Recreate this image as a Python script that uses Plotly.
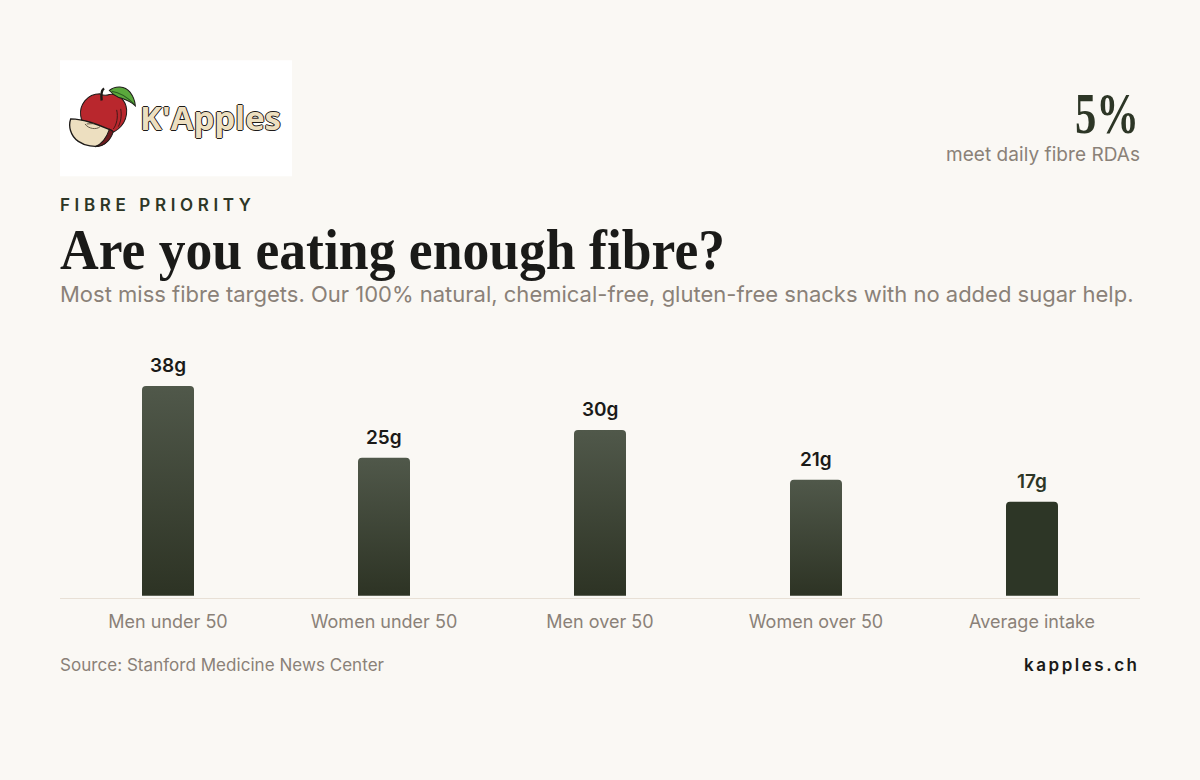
import base64
import json
import plotly.graph_objects as go

categories = ["Men under 50", "Women under 50", "Men over 50", "Women over 50", "Average intake"]
values = [38, 25, 30, 21, 17]
value_labels = ["38g", "25g", "30g", "21g", "17g"]

BG = "#faf8f4"
DARK = "#2d3626"
INK = "#1a1a18"
MUTED = "#8a8178"
W, H = 1200, 780
LEFT, RIGHT, TOP, BOTTOM = 60, 1140, 340, 598.3
PX_PER_G = 5.526
Y_MIN = -(BOTTOM - 596) / PX_PER_G
Y_MAX = Y_MIN + (BOTTOM - TOP) / PX_PER_G


def px(x):
    return (x - LEFT) / (RIGHT - LEFT)


def py(y):
    return (BOTTOM - y) / (BOTTOM - TOP)


logo_svg = """<svg xmlns='http://www.w3.org/2000/svg' viewBox='30 30 696 346'>
<path d='M150 130 C110 130 88 165 92 195 C95 225 130 255 170 250 C205 245 232 215 230 178 C228 145 200 128 178 132 C168 136 160 136 150 130Z' fill='#b9272d' stroke='#1d1a18' stroke-width='3'/>
<path d='M200 178 C205 200 200 222 190 235 M212 175 C216 195 212 215 205 228' fill='none' stroke='#2a1613' stroke-width='2.5'/>
<path d='M155 150 C153 135 152 122 162 114' fill='none' stroke='#1d1a18' stroke-width='7'/>
<path d='M178 120 C195 105 225 105 240 125 C250 138 255 152 256 166 C240 150 222 146 205 140 C195 136 185 128 178 120Z' fill='#5aa83c' stroke='#1d1a18' stroke-width='3'/>
<path d='M185 122 C205 125 232 140 252 160' fill='none' stroke='#2b5a22' stroke-width='3'/>
<path d='M62 205 C55 225 60 255 85 272 C105 286 135 290 155 284 C170 278 182 258 186 240 C150 225 105 205 62 205Z' fill='#eddfc0' stroke='#1d1a18' stroke-width='4'/>
<path d='M178 236 L190 243 C182 268 165 286 135 288 C155 280 170 260 178 236Z' fill='#6d1a1e' stroke='#1d1a18' stroke-width='3'/>
<path d='M105 220 C115 235 140 238 150 228 M110 220 L132 219' fill='none' stroke='#4a4030' stroke-width='2.5'/>
</svg>"""
logo_uri = "data:image/svg+xml;base64," + base64.b64encode(logo_svg.encode()).decode()


def note(text, x, y, size, color, family="Inter", weight=400, anchor="left", cls_shadow=None):
    font = dict(family=family, size=size, color=color, weight=weight)
    if cls_shadow:
        font["shadow"] = cls_shadow
    return dict(text=text, x=px(x), y=py(y), xref="paper", yref="paper",
                xanchor=anchor, yanchor="middle", showarrow=False, font=font,
                borderpad=0, borderwidth=0)


annotations = [
    note("FIBRE PRIORITY", 60, 204.5, 17, "#2d3626", weight=600),
    note("Are you eating enough fibre?", 60, 250, 56, INK, family="Liberation Serif", weight=700),
    note("Most miss fibre targets. Our 100% natural, chemical-free, gluten-free snacks with no added sugar help.",
         60, 294, 22, MUTED),
    note("5%", 1140, 113, 58, DARK, family="Liberation Serif", weight=700, anchor="right"),
    note("meet daily fibre RDAs", 1140, 154, 19, MUTED, anchor="right"),
    note("Source: Stanford Medicine News Center", 60, 665, 17, MUTED),
    note("kapples.ch", 1140, 665, 17, INK, weight=600, anchor="right"),
    note("K'Apples", 140, 117, 33, "#eddfc0", family="Open Sans", weight=700,
         cls_shadow="1px 0 #1d1a18, -1px 0 #1d1a18, 0 1px #1d1a18, 0 -1px #1d1a18"),
]
for cat, val, lab in zip(categories, values, value_labels):
    annotations.append(dict(text=lab, x=cat, y=val, xref="x", yref="y", xanchor="center",
                            yanchor="bottom", yshift=7, showarrow=False,
                            font=dict(family="Inter", size=19, weight=600,
                                      color=DARK if cat == "Average intake" else INK)))

fig = go.Figure(go.Bar(
    x=categories, y=values,
    marker=dict(color=["#3e4536"] * 4 + [DARK], line=dict(width=0)),
    hoverinfo="skip",
))

fig.update_layout(
    width=W, height=H,
    margin=dict(l=LEFT, r=W - RIGHT, t=TOP, b=H - BOTTOM, pad=0),
    paper_bgcolor=BG, plot_bgcolor=BG,
    bargap=1 - 52 / 216, barcornerradius=4,
    showlegend=False,
    xaxis=dict(showline=True, linecolor="#e8e0d6", linewidth=1, ticks="",
               ticklabelstandoff=7, tickfont=dict(family="Inter", size=18, color=MUTED),
               showgrid=False, zeroline=False, fixedrange=True),
    yaxis=dict(range=[Y_MIN, Y_MAX], visible=False, showgrid=False, zeroline=False, fixedrange=True),
    annotations=annotations,
    shapes=[dict(type="rect", xref="paper", yref="paper", x0=px(60), x1=px(292),
                 y0=py(176), y1=py(60), fillcolor="#ffffff", line=dict(width=0), layer="below")],
    images=[dict(source=logo_uri, xref="paper", yref="paper", x=px(60), y=py(60),
                 sizex=px(292) - px(60), sizey=py(60) - py(176), xanchor="left", yanchor="top",
                 sizing="stretch", layer="above")],
)

# horizontal extents measured on the picture: text -> [left, right, adjust mode]
text_fit = {
    "FIBRE PRIORITY": [60, 251, "spacing"],
    "kapples.ch": [1024, 1137, "spacing"],
    "Are you eating enough fibre?": [60, 725, "spacingAndGlyphs"],
    "5%": [1075, 1139, "spacingAndGlyphs"],
    "K'Apples": [140, 281, "spacingAndGlyphs"],
    "Source: Stanford Medicine News Center": [60, 384, "spacing"],
    "meet daily fibre RDAs": [946, 1140, "spacing"],
}

post = """
document.body.style.margin = '0';
document.body.style.background = '%s';
var gd = document.getElementById('{plot_id}');
var svg = gd.querySelector('.main-svg');
var ns = 'http://www.w3.org/2000/svg';
var defs = document.createElementNS(ns, 'defs');
var grad = document.createElementNS(ns, 'linearGradient');
grad.setAttribute('id', 'barfade');
grad.setAttribute('x1', '0'); grad.setAttribute('y1', '0');
grad.setAttribute('x2', '0'); grad.setAttribute('y2', '1');
[['0', '#50584a'], ['1', '#2d3324']].forEach(function (s) {
  var st = document.createElementNS(ns, 'stop');
  st.setAttribute('offset', s[0]); st.setAttribute('stop-color', s[1]);
  grad.appendChild(st);
});
defs.appendChild(grad); svg.insertBefore(defs, svg.firstChild);
gd.querySelectorAll('.bars .point path').forEach(function (p, i) {
  if (i < 4) p.style.fill = 'url(#barfade)';
});
var fit = %s;
gd.querySelectorAll('.annotation-text').forEach(function (t) {
  var f = fit[t.textContent];
  if (!f) return;
  t.setAttribute('textLength', f[1] - f[0]);
  t.setAttribute('lengthAdjust', f[2]);
  var box = t.getBoundingClientRect();
  var x0 = parseFloat(t.getAttribute('x') || '0');
  t.setAttribute('x', x0 + f[0] - box.left);
});
""" % (BG, json.dumps(text_fit))

fig.write_html("out.html", post_script=post, config=dict(displayModeBar=False))
